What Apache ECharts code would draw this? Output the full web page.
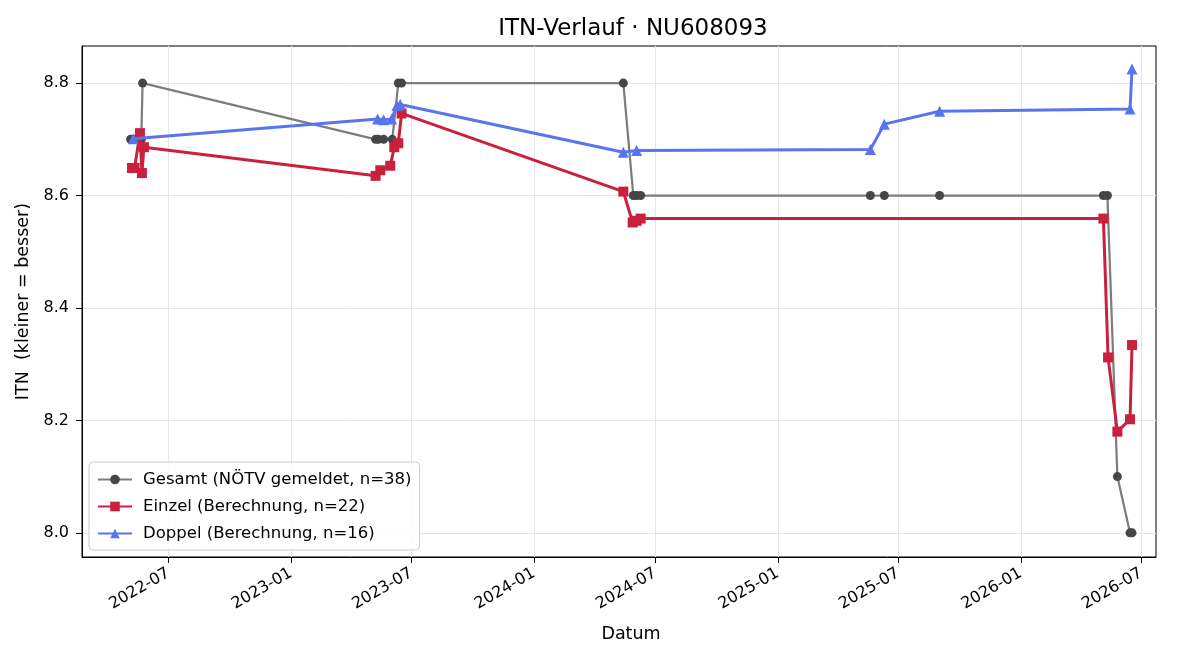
<!DOCTYPE html>
<html>
<head>
<meta charset="utf-8">
<script src="https://cdn.jsdelivr.net/npm/echarts@6/dist/echarts.min.js"></script>
<style>
  html, body { margin: 0; padding: 0; background: #fff; }
  #main { width: 1200px; height: 660px; }
</style>
</head>
<body>
<div id="main"></div>
<script>
// Gesamt (NÖTV gemeldet)
var gesamtDates = ['2022-05-05','2022-05-09','2022-05-17','2022-05-21','2022-05-23',
    '2023-05-08','2023-05-12','2023-05-20','2023-06-02','2023-06-11','2023-06-16',
    '2024-05-14','2024-05-29','2024-06-03','2024-06-09',
    '2025-05-20','2025-06-10','2025-09-01',
    '2026-05-05','2026-05-11','2026-05-26','2026-06-14','2026-06-17'];
var gesamtVals = [8.7, 8.7, 8.7, 8.7, 8.8,
    8.7, 8.7, 8.7, 8.7, 8.8, 8.8,
    8.8, 8.6, 8.6, 8.6,
    8.6, 8.6, 8.6,
    8.6, 8.6, 8.1, 8.0, 8.0];

// Einzel (Berechnung)
var einzelDates = ['2022-05-07','2022-05-11','2022-05-19','2022-05-22','2022-05-25',
    '2023-05-08','2023-05-15','2023-05-30','2023-06-05','2023-06-11','2023-06-16',
    '2024-05-14','2024-05-28','2024-06-03','2024-06-09',
    '2026-05-05','2026-05-12','2026-05-26','2026-06-14','2026-06-17'];
var einzelVals = [8.649, 8.649, 8.711, 8.640, 8.686,
    8.635, 8.645, 8.653, 8.686, 8.693, 8.746,
    8.607, 8.552, 8.555, 8.559,
    8.559, 8.312, 8.180, 8.202, 8.334];

// Doppel (Berechnung)
var doppelDates = ['2022-05-09',
    '2023-05-11','2023-05-20','2023-06-01','2023-06-09','2023-06-14',
    '2024-05-14','2024-06-03',
    '2025-05-20','2025-06-10','2025-09-01',
    '2026-06-14','2026-06-17'];
var doppelVals = [8.701,
    8.736, 8.735, 8.736, 8.760, 8.762,
    8.677, 8.680,
    8.682, 8.727, 8.750,
    8.754, 8.825];

var yTicks = [8.0, 8.2, 8.4, 8.6, 8.8];
var xTickMonths = ['2022-07','2023-01','2023-07','2024-01','2024-07','2025-01','2025-07','2026-01','2026-07'];

var font = 'DejaVu Sans';

// Datum -> ms (UTC)
function ts(s) {
    var p = s.split('-');
    return Date.UTC(+p[0], +p[1] - 1, p[2] ? +p[2] : 1);
}
function pairs(d, v) {
    var out = [];
    for (var i = 0; i < d.length; i++) out.push([ts(d[i]), v[i]]);
    return out;
}
function pad(n) { return n < 10 ? '0' + n : '' + n; }

var xTicks = xTickMonths.map(ts);

var chart = echarts.init(document.getElementById('main'));
var option = {
    animation: false,
    backgroundColor: '#fff',
    title: {
        text: 'ITN-Verlauf · NU608093',
        left: 628,
        top: 13,
        textAlign: 'center',
        textStyle: { fontFamily: font, fontSize: 23, fontWeight: 'normal', color: '#000' }
    },
    legend: {
        orient: 'vertical',
        left: 89,
        top: 462,
        itemWidth: 34,
        itemHeight: 12,
        itemGap: 10,
        padding: [9, 8, 8, 8],
        backgroundColor: 'rgba(255,255,255,0.85)',
        borderColor: '#cccccc',
        borderWidth: 1,
        borderRadius: 4,
        textStyle: { fontFamily: font, fontSize: 16.5, color: '#000', padding: [0, 0, 0, 6] },
        data: ['Gesamt (NÖTV gemeldet, n=38)', 'Einzel (Berechnung, n=22)', 'Doppel (Berechnung, n=16)']
    },
    grid: {
        left: 82, right: 44, top: 46, bottom: 103,
        show: true, borderColor: '#000', borderWidth: 1, backgroundColor: 'transparent'
    },
    xAxis: {
        type: 'value',
        min: ts('2022-02-21'),
        max: ts('2026-07-23'),
        name: 'Datum',
        nameLocation: 'middle',
        nameGap: 68,
        nameTextStyle: { fontFamily: font, fontSize: 17.5, color: '#000', padding: [0, 0, 0, 24] },
        axisLine: { show: true, lineStyle: { color: '#000', width: 1 } },
        axisTick: { show: true, length: 6, customValues: xTicks, lineStyle: { color: '#000' } },
        axisLabel: {
            customValues: xTicks,
            rotate: 30,
            fontFamily: font, fontSize: 16, color: '#000', margin: 15,
            formatter: function (v) {
                var d = new Date(v);
                return d.getUTCFullYear() + '-' + pad(d.getUTCMonth() + 1);
            }
        },
        splitLine: { show: true, lineStyle: { color: '#e6e6e6', width: 1 } }
    },
    yAxis: {
        type: 'value',
        min: 7.957,
        max: 8.866,
        name: 'ITN  (kleiner = besser)',
        nameLocation: 'middle',
        nameGap: 46,
        nameTextStyle: { fontFamily: font, fontSize: 17.5, color: '#000' },
        axisLine: { show: true, lineStyle: { color: '#000', width: 1 } },
        axisTick: { show: true, length: 6, customValues: yTicks, lineStyle: { color: '#000' } },
        axisLabel: {
            customValues: yTicks,
            fontFamily: font, fontSize: 16, color: '#000', margin: 13,
            formatter: function (v) { return v.toFixed(1); }
        },
        splitLine: { show: true, lineStyle: { color: '#e6e6e6', width: 1 } }
    },
    series: [
        {
            name: 'Gesamt (NÖTV gemeldet, n=38)',
            type: 'line',
            data: pairs(gesamtDates, gesamtVals),
            symbol: 'circle',
            symbolSize: 9,
            showAllSymbol: true,
            lineStyle: { color: '#7c7c7c', width: 2.2 },
            itemStyle: { color: '#464646' },
            z: 2
        },
        {
            name: 'Einzel (Berechnung, n=22)',
            type: 'line',
            data: pairs(einzelDates, einzelVals),
            symbol: 'rect',
            symbolSize: 10,
            showAllSymbol: true,
            lineStyle: { color: '#c9203e', width: 3 },
            itemStyle: { color: '#c9203e' },
            z: 3
        },
        {
            name: 'Doppel (Berechnung, n=16)',
            type: 'line',
            data: pairs(doppelDates, doppelVals),
            symbol: 'triangle',
            symbolSize: 11,
            showAllSymbol: true,
            lineStyle: { color: '#5874ef', width: 3 },
            itemStyle: { color: '#5874ef' },
            z: 4
        }
    ]
};
chart.setOption(option);
</script>
</body>
</html>
